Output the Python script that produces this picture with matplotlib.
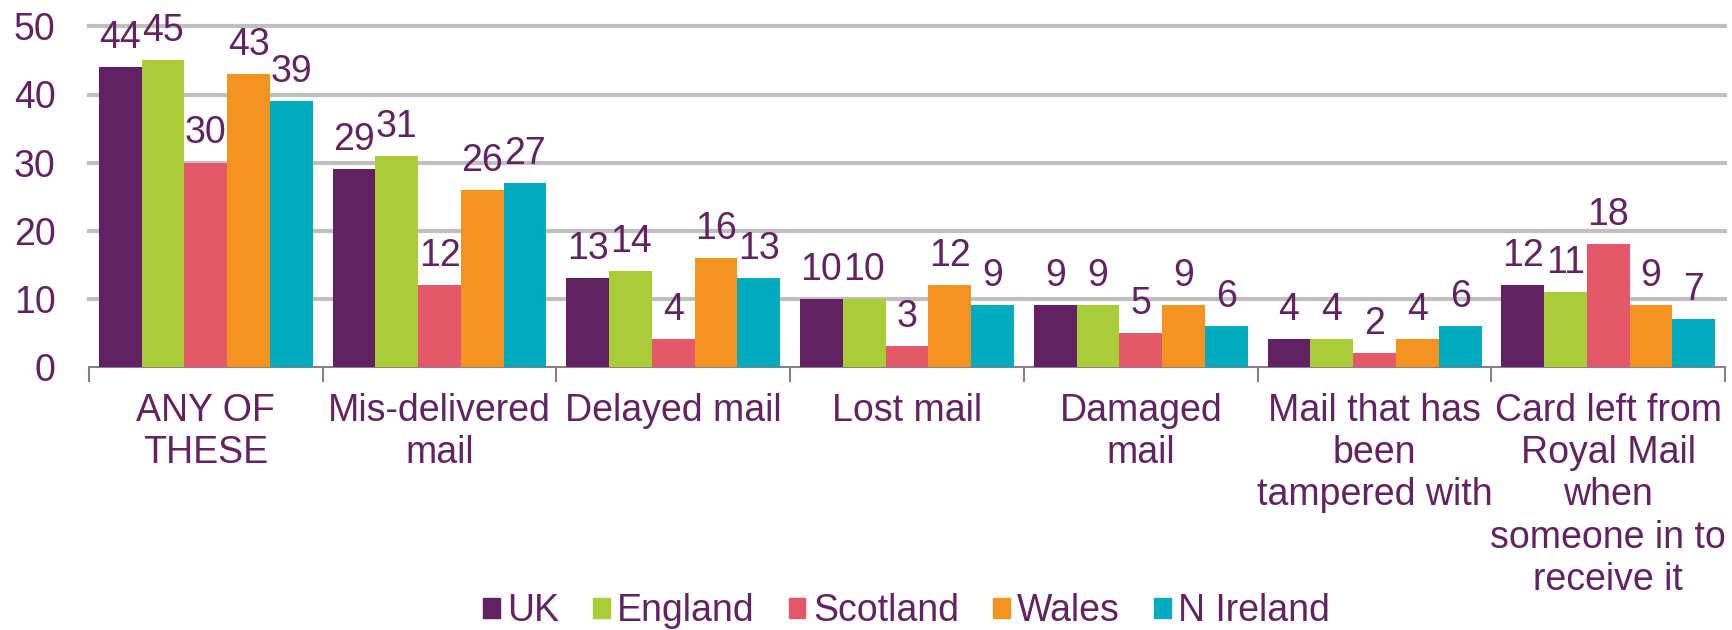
import numpy as np
import matplotlib
matplotlib.use('Agg')
import matplotlib.pyplot as plt
from matplotlib.patches import Patch

plt.rcParams['font.family'] = ['Liberation Sans', 'DejaVu Sans']

categories = ['ANY OF\nTHESE', 'Mis-delivered\nmail', 'Delayed mail', 'Lost mail',
              'Damaged\nmail', 'Mail that has\nbeen\ntampered with',
              'Card left from\nRoyal Mail\nwhen\nsomeone in to\nreceive it']
series = ['UK', 'England', 'Scotland', 'Wales', 'N Ireland']
uk = [44, 29, 13, 10, 9, 4, 12]
england = [45, 31, 14, 10, 9, 4, 11]
scotland = [30, 12, 4, 3, 5, 2, 18]
wales = [43, 26, 16, 12, 9, 4, 9]
n_ireland = [39, 27, 13, 9, 6, 6, 7]
y_ticks = [0, 10, 20, 30, 40, 50]

colors = ['#622161', '#a8cd37', '#e5586a', '#f39420', '#00abbd']
text_color = '#612361'
fs = 27

fig = plt.figure(figsize=(17.33, 6.3), dpi=100)
ax = fig.add_axes([0.0513, 0.418, 0.9442, 0.958 - 0.418])

x = np.arange(len(categories))
w = 0.183
all_vals = [uk, england, scotland, wales, n_ireland]
for k, (vals, c) in enumerate(zip(all_vals, colors)):
    pos = x + (k - 2) * w
    ax.bar(pos, vals, width=w, color=c, zorder=3)
    for px, v in zip(pos, vals):
        ax.annotate(str(v), (px, v), xytext=(0, 8), textcoords='offset points',
                    ha='center', va='bottom', fontsize=fs, color=text_color)

ax.set_xlim(-0.5, len(categories) - 0.5)
ax.set_ylim(0, 50)
ax.set_yticks(y_ticks)
ax.set_yticklabels([str(t) for t in y_ticks])
ax.tick_params(axis='y', length=0, pad=24, labelsize=fs, labelcolor=text_color)
for t in y_ticks[1:]:
    ax.axhline(t, color='#bfbfbf', lw=3, zorder=1, clip_on=False)

# group boundary ticks, category names on minor ticks
ax.set_xticks(np.arange(len(categories) + 1) - 0.5)
ax.set_xticklabels([])
ax.tick_params(axis='x', which='major', length=11, width=1.5, color='#8e7b8d', direction='out')
ax.set_xticks(x, minor=True)
ax.set_xticklabels(categories, minor=True, fontsize=fs, color=text_color, linespacing=1.22)
ax.tick_params(axis='x', which='minor', length=0, pad=19)

for s in ['top', 'right', 'left']:
    ax.spines[s].set_visible(False)
ax.spines['bottom'].set_color('#8e7b8d')
ax.spines['bottom'].set_linewidth(1.5)

handles = [Patch(color=c, label=s) for s, c in zip(series, colors)]
leg = fig.legend(handles=handles, loc='center', bbox_to_anchor=(0.523, 0.03), ncol=5,
                 frameon=False, fontsize=fs, handlelength=0.45, handleheight=0.45,
                 handletextpad=0.2, columnspacing=0.9)
for t in leg.get_texts():
    t.set_color(text_color)

fig.savefig('out.png', dpi=100)
